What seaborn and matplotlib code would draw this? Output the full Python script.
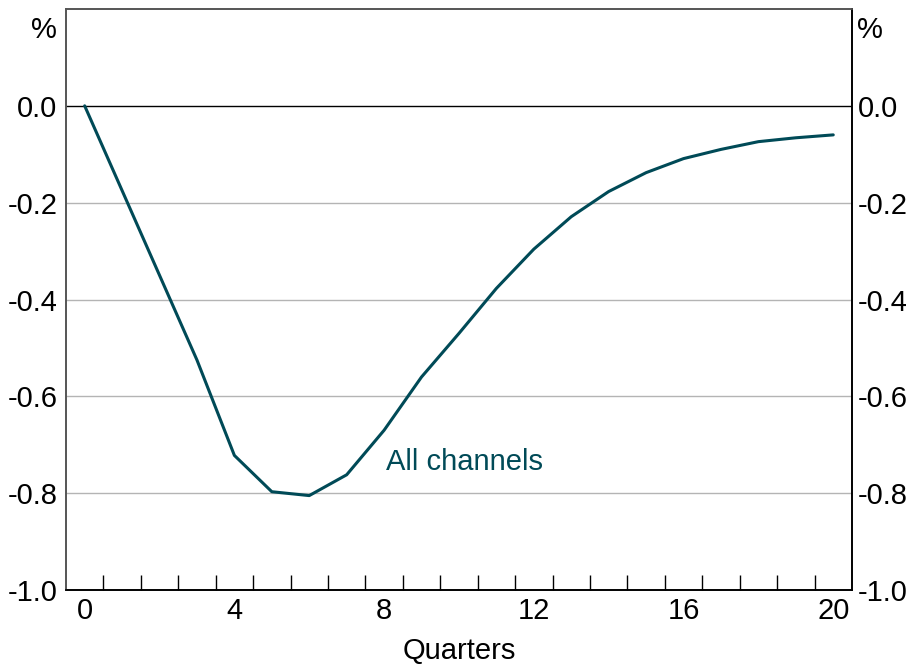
import pandas as pd
import numpy as np
import matplotlib.pyplot as plt
import seaborn as sns

quarters = list(range(21))
all_channels = [0.0, -0.175, -0.35, -0.525, -0.722, -0.797, -0.805, -0.762, -0.67, -0.56,
                -0.47, -0.377, -0.296, -0.229, -0.177, -0.138, -0.109, -0.09, -0.074, -0.066, -0.06]
y_ticks = [-1.0, -0.8, -0.6, -0.4, -0.2, 0.0]
y_labels = ['-1.0', '-0.8', '-0.6', '-0.4', '-0.2', '0.0']
x_ticks = [0, 4, 8, 12, 16, 20]

sns.set_style('white')
plt.rcParams['font.family'] = ['Liberation Sans', 'DejaVu Sans']
plt.rcParams['text.color'] = 'black'
plt.rcParams['xtick.color'] = 'black'
plt.rcParams['ytick.color'] = 'black'
plt.rcParams['axes.labelcolor'] = 'black'

df = pd.DataFrame({'Quarters': quarters, 'All channels': all_channels})
line_col = '#004a57'
fs = 21

fig = plt.figure(figsize=(9.11, 6.66), dpi=100)
ax = fig.add_axes([0.0724, 0.1141, 0.8628, 0.8724])

# gridlines and zero line
for v in [-0.8, -0.6, -0.4, -0.2]:
    ax.axhline(v, color='#b4b4b4', lw=1, zorder=1)
ax.axhline(0, color='black', lw=1, zorder=2)

sns.lineplot(data=df, x='Quarters', y='All channels', ax=ax, color=line_col, lw=2.2, zorder=3)

ax.set_xlim(-0.5, 20.5)
ax.set_ylim(-1.0, 0.2)
ax.set_xticks(x_ticks)
ax.set_xticks(np.arange(0.5, 20, 1), minor=True)
ax.tick_params(axis='x', which='major', bottom=True, length=0, labelsize=fs, pad=5)
ax.tick_params(axis='x', which='minor', bottom=True, direction='in', length=11, width=1, color='black')
ax.set_yticks(y_ticks)
ax.set_yticklabels(y_labels)
ax.tick_params(axis='y', length=0, labelsize=fs, pad=6)
ax.set_xlabel('Quarters', fontsize=fs, labelpad=9)
ax.set_ylabel('')

ax2 = ax.twinx()
ax2.set_ylim(-1.0, 0.2)
ax2.set_yticks(y_ticks)
ax2.set_yticklabels(y_labels)
ax2.tick_params(axis='y', length=0, labelsize=fs, pad=4)

ax.text(-0.011, 0.988, '%', transform=ax.transAxes, fontsize=fs, ha='right', va='top')
ax2.text(1.007, 0.988, '%', transform=ax2.transAxes, fontsize=fs, ha='left', va='top')

for a in (ax, ax2):
    a.spines['left'].set_color('#555555')
    a.spines['top'].set_color('#555555')
    a.spines['right'].set_color('black')
    a.spines['bottom'].set_color('black')
    for s in a.spines.values():
        s.set_linewidth(1.2)

ax.text(8.05, -0.752, 'All channels', color=line_col, fontsize=fs, ha='left', va='baseline')

fig.savefig('out.png', dpi=100)
